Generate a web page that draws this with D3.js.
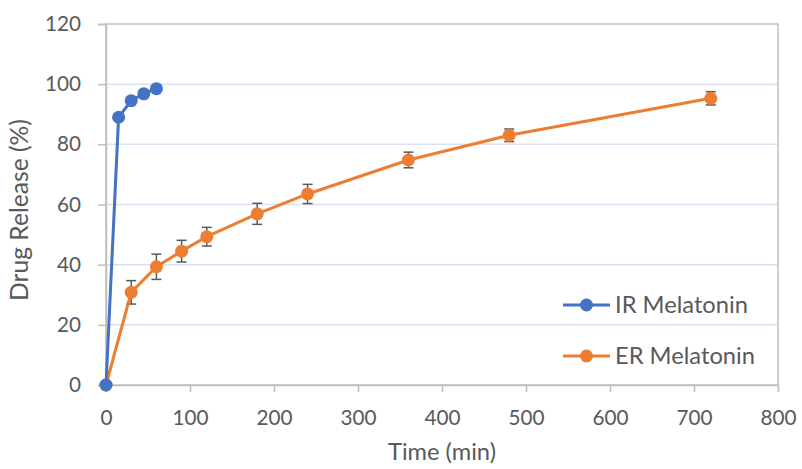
<!DOCTYPE html>
<html>
<head>
<meta charset="utf-8">
<script src="https://cdn.jsdelivr.net/npm/d3@7"></script>
<style>
  body { margin: 0; background: #fff; }
  text { font-family: Lato, "Open Sans", sans-serif; fill: #595959; }
</style>
</head>
<body>
<div id="chart"></div>
<script>
// IR melatonin release
const irTime = [0, 15, 30, 45, 60];
const irRelease = [0, 89, 94.5, 96.8, 98.5];

// ER melatonin release with error bars
const erTime = [0, 30, 60, 90, 120, 180, 240, 360, 480, 720];
const erRelease = [0, 30.8, 39.3, 44.5, 49.3, 56.9, 63.5, 74.8, 83, 95.3];
const erError = [0, 3.9, 4.2, 3.6, 3.1, 3.5, 3.2, 2.6, 2.1, 2.2];

const xTicks = [0, 100, 200, 300, 400, 500, 600, 700, 800];
const yTicks = [0, 20, 40, 60, 80, 100, 120];

const width = 802, height = 469;
const margin = {left: 106, right: 24, top: 24, bottom: 84};
const blue = "#4472C4", orange = "#ED7D31";

const svg = d3.select("#chart").append("svg")
  .attr("width", width)
  .attr("height", height);

// font size that makes a string about as wide as in the reference (Calibri-ish metrics)
function fitSize(str, target) {
  const t = svg.append("text").attr("font-size", 20).text(str);
  const w = t.node().getComputedTextLength();
  t.remove();
  return 20 * target / w;
}
const tickSize = fitSize("120", 36);
const legendSize = fitSize("IR Melatonin", 133);
const xTitleSize = fitSize("Time (min)", 108);
const yTitleSize = fitSize("Drug Release (%)", 182);

const x = d3.scaleLinear().domain([0, 800]).range([margin.left, width - margin.right]);
const y = d3.scaleLinear().domain([0, 120]).range([height - margin.bottom, margin.top]);

// gridlines
svg.selectAll(".grid")
  .data(yTicks.filter(t => t > 0 && t < 120))
  .enter().append("line")
  .attr("x1", x(0)).attr("x2", x(800))
  .attr("y1", d => y(d)).attr("y2", d => y(d))
  .attr("stroke", "#D9E1F2").attr("stroke-width", 1.5);

// plot frame
svg.append("rect")
  .attr("x", x(0)).attr("y", y(120))
  .attr("width", x(800) - x(0)).attr("height", y(0) - y(120))
  .attr("fill", "none").attr("stroke", "#BFBFBF").attr("stroke-width", 1.5);

// axes
const xAxis = svg.append("g")
  .attr("transform", `translate(0,${y(0)})`)
  .call(d3.axisBottom(x).tickValues(xTicks).tickSize(7).tickPadding(18));
const yAxis = svg.append("g")
  .attr("transform", `translate(${x(0)},0)`)
  .call(d3.axisLeft(y).tickValues(yTicks).tickSize(8).tickPadding(17));

[xAxis, yAxis].forEach(a => {
  a.select(".domain").attr("stroke", "#BFBFBF").attr("stroke-width", 1.5);
  a.selectAll(".tick line").attr("stroke", "#BFBFBF").attr("stroke-width", 1.5);
  a.selectAll(".tick text").attr("font-size", tickSize).attr("fill", "#595959")
    .style("font-family", "Lato, 'Open Sans', sans-serif");
});

// axis titles
svg.append("text")
  .attr("x", 442)
  .attr("y", 460)
  .attr("text-anchor", "middle")
  .attr("font-size", xTitleSize)
  .text("Time (min)");

svg.append("text")
  .attr("transform", `translate(28,210) rotate(-90)`)
  .attr("text-anchor", "middle")
  .attr("font-size", yTitleSize)
  .text("Drug Release (%)");

const line = d3.line().x(d => x(d[0])).y(d => y(d[1]));
const irData = irTime.map((t, i) => [t, irRelease[i]]);
const erData = erTime.map((t, i) => [t, erRelease[i], erError[i]]);

// error bars for ER
const eb = svg.selectAll(".err")
  .data(erData.filter(d => d[2] > 0))
  .enter().append("g")
  .attr("stroke", "#595959").attr("stroke-width", 1.5);
eb.append("line")
  .attr("x1", d => x(d[0])).attr("x2", d => x(d[0]))
  .attr("y1", d => y(d[1] - d[2])).attr("y2", d => y(d[1] + d[2]));
eb.append("line")
  .attr("x1", d => x(d[0]) - 5).attr("x2", d => x(d[0]) + 5)
  .attr("y1", d => y(d[1] + d[2])).attr("y2", d => y(d[1] + d[2]));
eb.append("line")
  .attr("x1", d => x(d[0]) - 5).attr("x2", d => x(d[0]) + 5)
  .attr("y1", d => y(d[1] - d[2])).attr("y2", d => y(d[1] - d[2]));

function drawSeries(data, color) {
  svg.append("path")
    .datum(data)
    .attr("d", line)
    .attr("fill", "none")
    .attr("stroke", color)
    .attr("stroke-width", 3);
  svg.selectAll(null)
    .data(data)
    .enter().append("circle")
    .attr("cx", d => x(d[0]))
    .attr("cy", d => y(d[1]))
    .attr("r", 6.5)
    .attr("fill", color);
}
drawSeries(erData, orange);
drawSeries(irData, blue);

// legend
const legendItems = [
  {name: "IR Melatonin", color: blue},
  {name: "ER Melatonin", color: orange}
];
const lg = svg.selectAll(".legend")
  .data(legendItems)
  .enter().append("g")
  .attr("transform", (d, i) => `translate(563,${305 + i * 51})`);
lg.append("line")
  .attr("x1", 0).attr("x2", 47)
  .attr("stroke", d => d.color).attr("stroke-width", 3);
lg.append("circle")
  .attr("cx", 23.5).attr("r", 6.5)
  .attr("fill", d => d.color);
lg.append("text")
  .attr("x", 52).attr("dy", "0.35em")
  .attr("font-size", legendSize)
  .text(d => d.name);
</script>
</body>
</html>
